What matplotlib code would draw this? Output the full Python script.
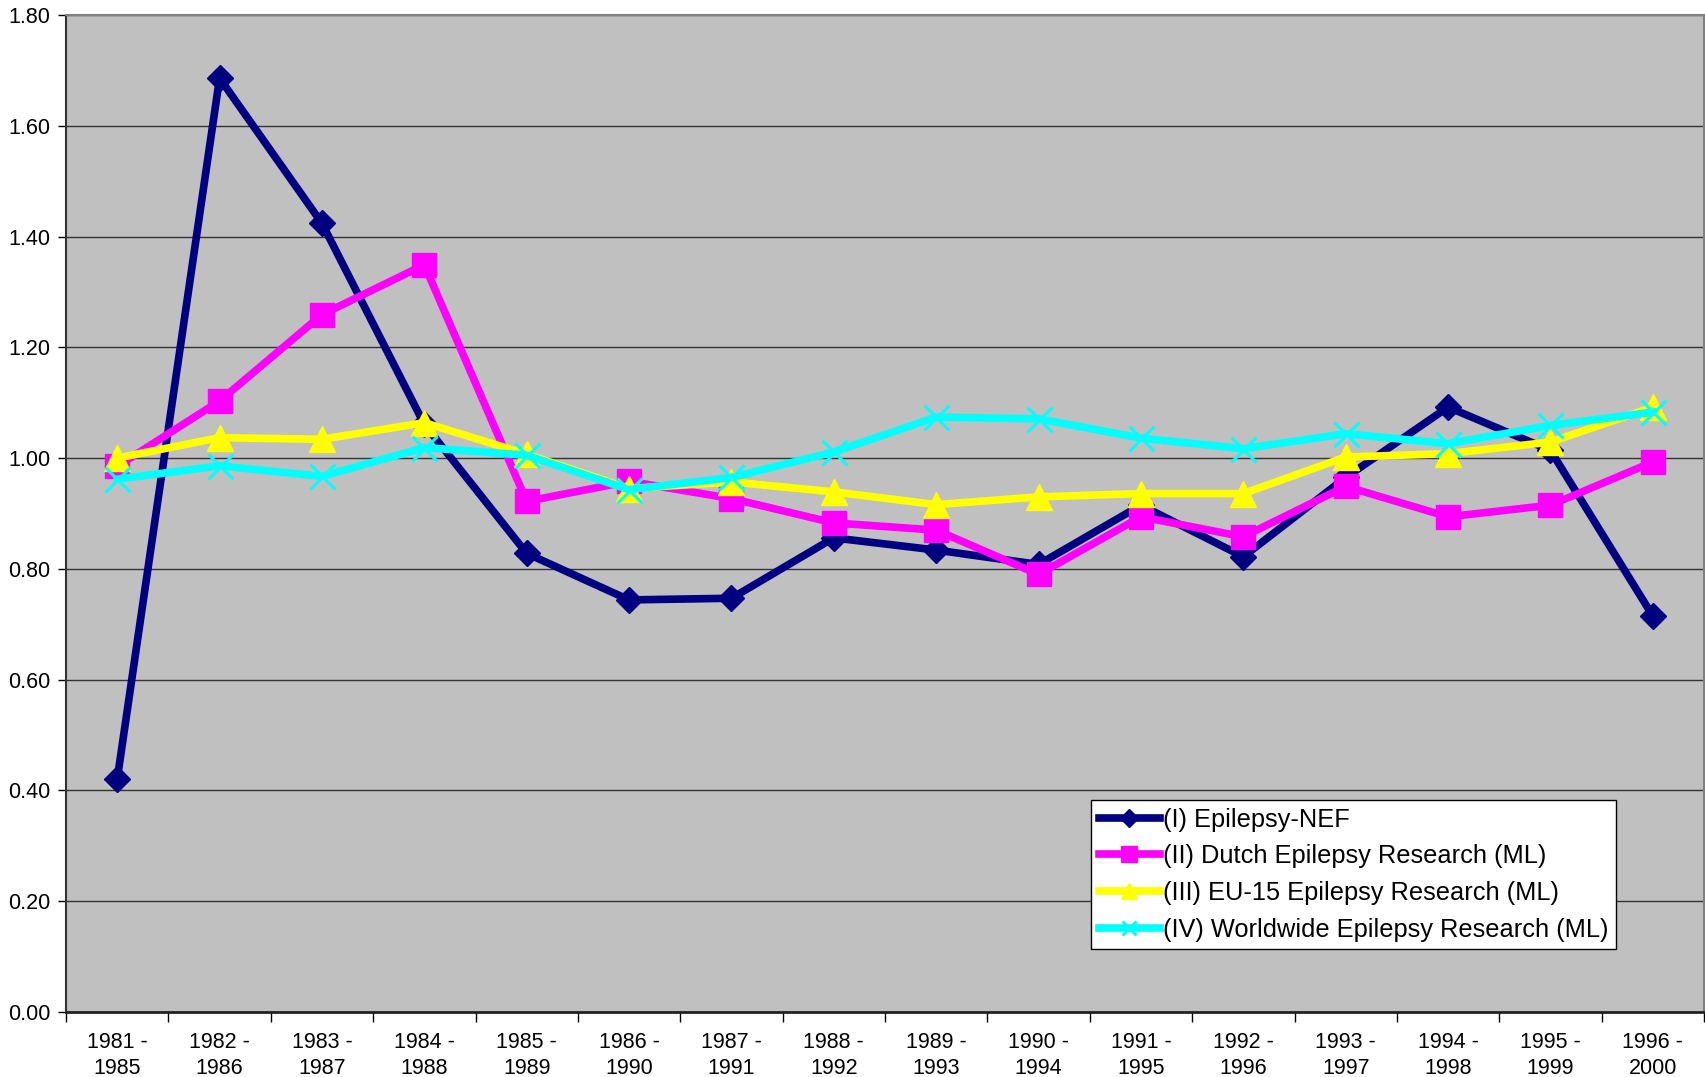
import matplotlib
matplotlib.use("Agg")
import matplotlib.pyplot as plt
import numpy as np

categories = ["1981 -\n1985", "1982 -\n1986", "1983 -\n1987", "1984 -\n1988",
              "1985 -\n1989", "1986 -\n1990", "1987 -\n1991", "1988 -\n1992",
              "1989 -\n1993", "1990 -\n1994", "1991 -\n1995", "1992 -\n1996",
              "1993 -\n1997", "1994 -\n1998", "1995 -\n1999", "1996 -\n2000"]

epilepsy_nef = [0.42, 1.686, 1.424, 1.061, 0.828, 0.744, 0.747, 0.856,
                0.834, 0.808, 0.915, 0.822, 0.965, 1.092, 1.014, 0.715]
dutch = [0.985, 1.103, 1.259, 1.349, 0.922, 0.958, 0.927, 0.883,
         0.870, 0.790, 0.894, 0.858, 0.949, 0.894, 0.915, 0.993]
eu15 = [1.000, 1.037, 1.034, 1.064, 1.007, 0.945, 0.957, 0.939,
        0.916, 0.930, 0.936, 0.936, 1.002, 1.008, 1.029, 1.092]
worldwide = [0.962, 0.986, 0.967, 1.019, 1.005, 0.943, 0.965, 1.011,
             1.074, 1.071, 1.036, 1.017, 1.044, 1.026, 1.059, 1.083]

labels = ["(I) Epilepsy-NEF", "(II) Dutch Epilepsy Research (ML)",
          "(III) EU-15 Epilepsy Research (ML)", "(IV) Worldwide Epilepsy Research (ML)"]
yticks = [0.0, 0.2, 0.4, 0.6, 0.8, 1.0, 1.2, 1.4, 1.6, 1.8]

plt.rcParams['font.family'] = ['Liberation Sans', 'DejaVu Sans']

W, H = 1705, 1077
fig = plt.figure(figsize=(W / 100, H / 100), dpi=100)
ax = fig.add_axes([66 / W, (H - 1012) / H, (1704 - 66) / W, (1012 - 15) / H])
ax.set_facecolor('#C0C0C0')

x = np.arange(len(categories))
lw = 5.5
l1, = ax.plot(x, epilepsy_nef, color='#000080', lw=lw, marker='D', ms=13.5,
              mec='#000080', mfc='#000080', label=labels[0], zorder=3)
l2, = ax.plot(x, dutch, color='#FF00FF', lw=lw, marker='s', ms=17,
              mec='#FF00FF', mfc='#FF00FF', label=labels[1], zorder=4)
l3, = ax.plot(x, eu15, color='#FFFF00', lw=lw, marker='^', ms=19,
              mec='#FFFF00', mfc='#FFFF00', label=labels[2], zorder=5)
l4, = ax.plot(x, worldwide, color='#00FFFF', lw=lw, marker='x', ms=18,
              mec='#00FFFF', mew=2.2, label=labels[3], zorder=6)

ax.set_xlim(-0.5, len(categories) - 0.5)
ax.set_ylim(0, 1.8)
ax.set_yticks(yticks)
ax.set_yticklabels([f"{v:.2f}" for v in yticks])
ax.yaxis.grid(True, color='#333333', lw=1.0)
ax.set_axisbelow(True)

ax.set_xticks(x)
ax.set_xticklabels(categories, linespacing=1.32)
ax.set_xticks(np.arange(-0.5, len(categories)), minor=True)
ax.tick_params(axis='x', which='major', length=0, pad=14.5, labelsize=15.5)
ax.tick_params(axis='x', which='minor', length=7, width=1, direction='out')
ax.tick_params(axis='y', length=6, width=1, pad=5, labelsize=15.5, direction='out')

for side in ['top', 'right']:
    ax.spines[side].set_color('#808080')
    ax.spines[side].set_linewidth(1.5)
ax.spines['left'].set_color('#333333')
ax.spines['left'].set_linewidth(1.5)
ax.spines['bottom'].set_color('#222222')
ax.spines['bottom'].set_linewidth(2)

leg = fig.legend(handles=[l1, l2, l3, l4], loc='upper left',
                 bbox_to_anchor=(1091 / W, (H - 800) / H),
                 fontsize=18.3, frameon=True, fancybox=False, shadow=False,
                 framealpha=1.0,
                 borderpad=0.3, labelspacing=0.5, handlelength=2.4,
                 handletextpad=0.12, borderaxespad=0)
leg.get_frame().set_edgecolor('black')
leg.get_frame().set_linewidth(1.0)
leg.get_frame().set_facecolor('white')
sizes = [9, 11, 11, 10]
for h, s in zip(leg.legend_handles, sizes):
    h.set_markersize(s)

fig.savefig('out.png', dpi=100)
